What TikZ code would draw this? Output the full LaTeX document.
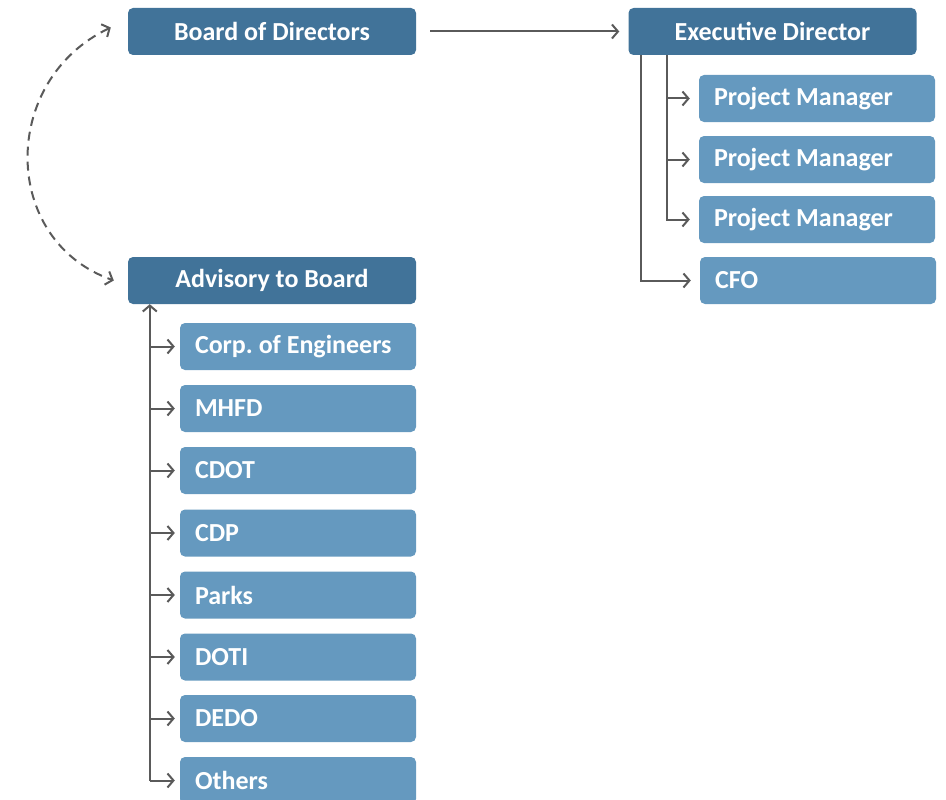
\documentclass[tikz,border=0pt]{standalone}
\usepackage{fontspec}
\setmainfont{Carlito}
\usetikzlibrary{arrows.meta}
\definecolor{darkbox}{RGB}{65,115,153}
\definecolor{lightbox}{RGB}{101,153,191}
\definecolor{linegray}{RGB}{90,90,90}
\frenchspacing
\begin{document}
\begin{tikzpicture}[x=1pt,y=-1pt,
  box/.style={rectangle,rounded corners=5pt,text=white,inner sep=0pt,
    font=\fontsize{26}{29}\selectfont\bfseries\frenchspacing},
  headbox/.style={box,fill=darkbox,minimum width=288pt,minimum height=47pt},
  subbox/.style={box,fill=lightbox,minimum width=236pt,minimum height=47pt,
    text width=206pt,align=flush left},
  arr/.style={draw=linegray,line width=2pt,-{Straight Barb[length=6pt,width=14pt,line width=2pt]}},
  dasharr/.style={draw=linegray,line width=2pt,dash pattern=on 9pt off 6pt,
    {Straight Barb[length=6pt,width=14pt,line width=2pt]}-{Straight Barb[length=6pt,width=14pt,line width=2pt]}}
]
\useasboundingbox (0,0) rectangle (946,800);
% top row
\node[headbox] (board) at (272,31.5) {Board of Directors};
\node[headbox] (exec) at (772.5,31.5) {Executive Director};
% executive subordinates
\node[subbox] (pm1) at (817,98.5) {Project Manager};
\node[subbox] (pm2) at (817,159.5) {Project Manager};
\node[subbox] (pm3) at (817,219.5) {Project Manager};
\node[subbox] (cfo) at (818,280.5) {CFO};
% advisory
\node[headbox] (adv) at (272,280.5) {Advisory to Board};
\node[subbox] (corp) at (298,346.5) {Corp. of Engineers};
\node[subbox] (mhfd) at (298,408.5) {MHFD};
\node[subbox] (cdot) at (298,470.5) {CDOT};
\node[subbox] (cdp) at (298,533) {CDP};
\node[subbox] (parks) at (298,595) {Parks};
\node[subbox] (doti) at (298,657) {DOTI};
\node[subbox] (dedo) at (298,718.5) {DEDO};
\node[subbox] (others) at (298,780.5) {Others};
% board -> exec
\draw[arr] ([xshift=14pt]board.east) -- ([xshift=-9pt]exec.west);
% dashed board <-> advisory
\draw[dasharr] ([xshift=-17pt,yshift=4pt]board.west) .. controls (0,80) and (0,240) .. ([xshift=-14pt]adv.west);
% exec tree
\coordinate (etrunkA) at ([xshift=13pt]exec.south west);
\coordinate (etrunkB) at ([xshift=39pt]exec.south west);
\draw[arr] (etrunkA) |- ([xshift=-9pt]cfo.west);
\draw[arr] (etrunkB) |- ([xshift=-9pt]pm1.west);
\draw[arr] (etrunkB) |- ([xshift=-9pt]pm2.west);
\draw[arr] (etrunkB) |- ([xshift=-9pt]pm3.west);
% advisory tree
\coordinate (atrunk) at ([xshift=22pt]adv.south west);
\draw[arr] (atrunk |- others.west) -- (atrunk);
\foreach \n in {corp,mhfd,cdot,cdp,parks,doti,dedo,others}{
  \draw[arr] (atrunk |- \n.west) -- ([xshift=-5pt]\n.west);
}
\end{tikzpicture}
\end{document}
